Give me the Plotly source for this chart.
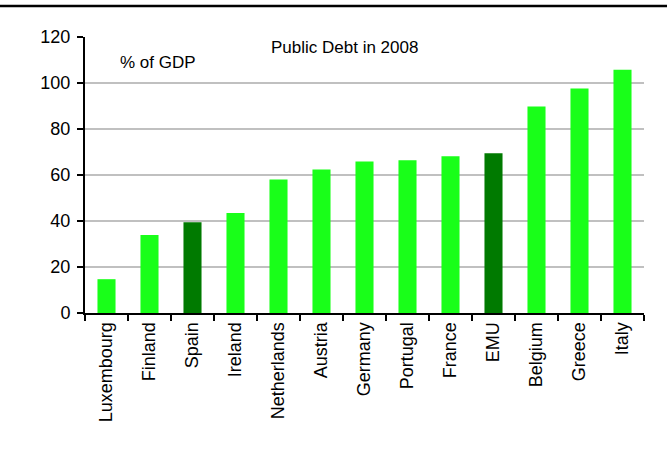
import plotly.graph_objects as go

countries = ["Luxembourg", "Finland", "Spain", "Ireland", "Netherlands", "Austria",
             "Germany", "Portugal", "France", "EMU", "Belgium", "Greece", "Italy"]
debt = [14.7, 33.9, 39.5, 43.5, 58.0, 62.4, 65.9, 66.4, 68.1, 69.5, 89.8, 97.6, 105.8]
highlight = ["Spain", "EMU"]

LIGHT = "#19FF19"
DARK = "#007A00"
colors = [DARK if c in highlight else LIGHT for c in countries]

FONT = "Liberation Sans, Arial, sans-serif"

fig = go.Figure(go.Bar(x=countries, y=debt, marker=dict(color=colors, line=dict(width=0)),
                       width=0.42))

fig.update_layout(
    width=667, height=450,
    margin=dict(l=85, r=23, t=37, b=137),
    paper_bgcolor="white", plot_bgcolor="white",
    showlegend=False,
    font=dict(family=FONT, size=17, color="#000000"),
)
fig.update_yaxes(range=[0, 120], dtick=20, showgrid=True, gridcolor="#C0C0C0", gridwidth=2,
                 showline=True, linecolor="black", linewidth=2, ticks="outside",
                 ticklen=6, tickwidth=2, tickcolor="black", zeroline=False,
                 tickfont=dict(size=18), ticklabelstandoff=3)
fig.update_xaxes(showline=True, linecolor="black", linewidth=2, ticks="outside",
                 tickson="boundaries", ticklen=6, tickwidth=2, tickcolor="black",
                 tickangle=-90, tickfont=dict(size=18), showgrid=False)

fig.add_annotation(text="Public Debt in 2008", xref="paper", yref="paper",
                   x=(344 - 85) / 559, y=(313 - 47) / 276, showarrow=False,
                   xanchor="center", yanchor="middle", font=dict(size=17))
fig.add_annotation(text="% of GDP", xref="paper", yref="paper",
                   x=(158 - 85) / 559, y=(313 - 63) / 276, showarrow=False,
                   xanchor="center", yanchor="middle", font=dict(size=17))
fig.add_shape(type="line", xref="paper", yref="paper",
              x0=-85 / 559, x1=582 / 559, y0=(313 - 6) / 276, y1=(313 - 6) / 276,
              line=dict(color="black", width=2.5))

fig.write_html("out.html")
